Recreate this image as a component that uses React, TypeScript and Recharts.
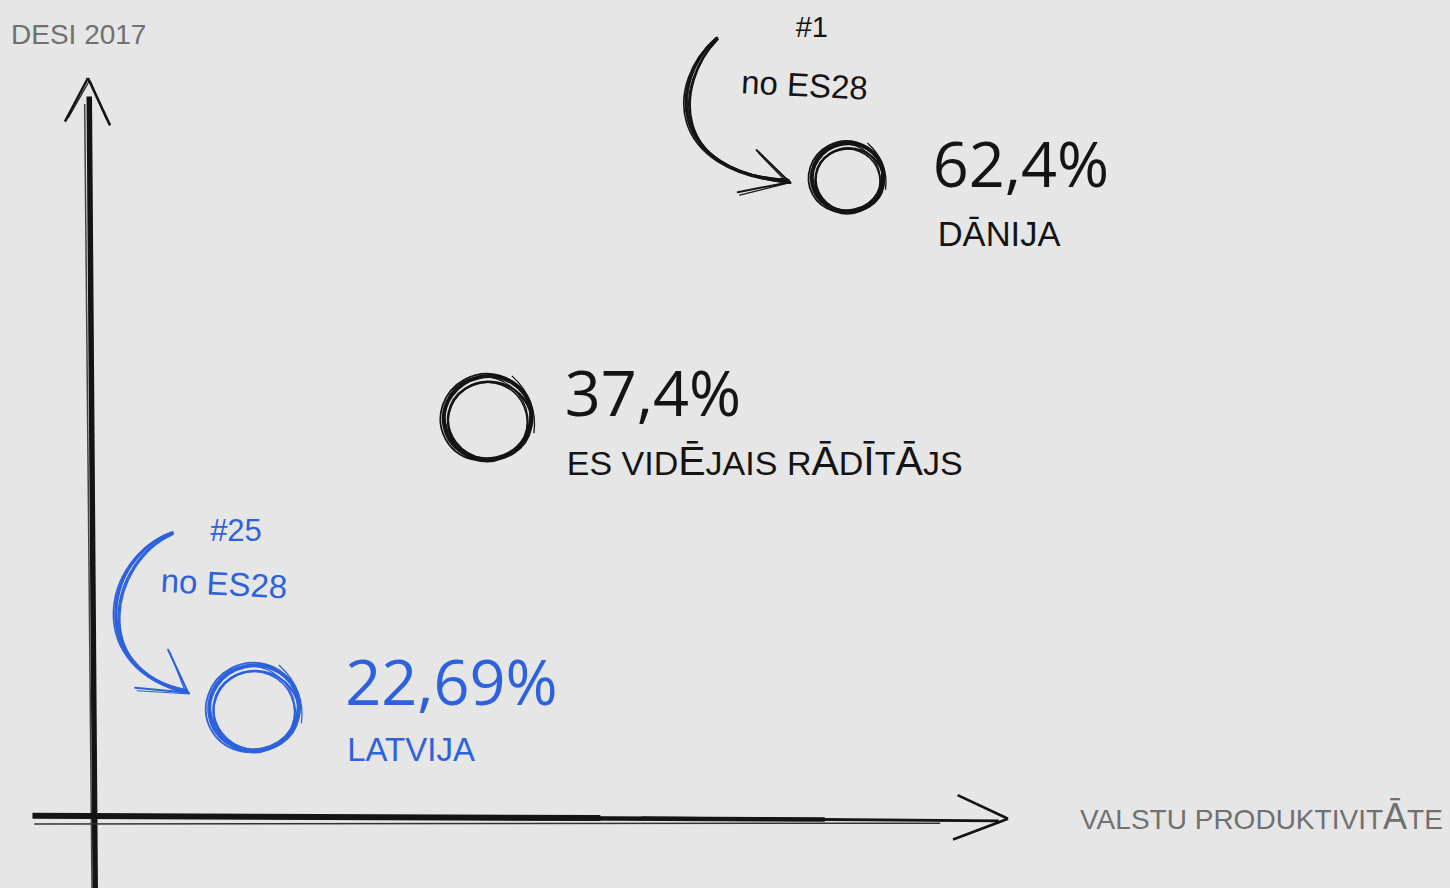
import React from "react";
import { ScatterChart, Scatter, XAxis, YAxis, ReferenceLine } from "recharts";

// values
const countries = ["LATVIJA", "ES VIDĒJAIS RĀDĪTĀJS", "DĀNIJA"];
const desiScore = [22.69, 37.4, 62.4];
const productivity = [17.7, 43.2, 82.5];
const desiPosition = [14.9, 54.1, 86.6];
const ranks = ["#25", "", "#1"];
const rankNote = "no ES28";

const BG = "#e6e6e6";
const INK = "#141414";
const BLUE = "#2d62dc";
const GREY = "#707070";
const SANS = "'Liberation Sans', Arial, sans-serif";
const BIG_CHARS = "ĀĒĪ";

const fmt = (v: number) => String(v).replace(".", ",") + "%";

const points = countries.map((name, i) => ({
  name,
  x: productivity[i],
  y: desiPosition[i],
  score: desiScore[i],
  rank: ranks[i],
}));

// text where the macron letters are drawn a bit larger (like the original)
function MixedText({ x, y, text, small, big, fill, family = SANS }: any) {
  return (
    <text x={x} y={y} fill={fill} fontFamily={family}>
      {text.split("").map((ch: string, i: number) => (
        <tspan key={i} fontSize={BIG_CHARS.includes(ch) ? big : small}>
          {ch}
        </tspan>
      ))}
    </text>
  );
}

function SketchCircle({ cx, cy, r, color }: any) {
  const rings = [
    { dx: 0, dy: 0, rx: 1, ry: 0.94, rot: -12, w: 4 },
    { dx: 2.5, dy: 2.5, rx: 0.95, ry: 0.88, rot: 10, w: 2.4 },
    { dx: -2, dy: -1.5, rx: 1.03, ry: 0.98, rot: -28, w: 1.8 },
    { dx: 1.5, dy: 4, rx: 0.9, ry: 0.9, rot: 22, w: 1.6 },
    { dx: -1, dy: 1, rx: 0.98, ry: 0.9, rot: 40, w: 1.2 },
  ];
  return (
    <g fill="none" stroke={color}>
      {rings.map((k, i) => (
        <ellipse
          key={i}
          cx={cx + k.dx}
          cy={cy + k.dy}
          rx={r * k.rx}
          ry={r * k.ry}
          strokeWidth={k.w}
          transform={`rotate(${k.rot} ${cx} ${cy})`}
        />
      ))}
      <path
        d={`M ${cx + r * 0.55} ${cy - r * 0.95} Q ${cx + r * 1.15} ${cy - r * 0.4} ${cx + r * 1.05} ${cy + r * 0.35}`}
        strokeWidth={1.3}
      />
    </g>
  );
}

function SketchArrow({ cx, cy, path, barbs, color }: any) {
  const [s, c1, c2, e] = path;
  const d = (o: number[]) =>
    `M ${cx + s[0] + o[0]} ${cy + s[1] + o[1]} C ${cx + c1[0] + o[2]} ${cy + c1[1] + o[3]}, ${cx + c2[0] + o[2]} ${cy + c2[1] + o[3]}, ${cx + e[0] + o[4]} ${cy + e[1] + o[5]}`;
  const strokes = [
    { o: [0, 0, 0, 0, 0, 0], w: 3 },
    { o: [1, 1, 4, 3, -1, -2], w: 2.2 },
    { o: [-1, 0, -3, 1, 1, 1], w: 1.6 },
    { o: [0, 2, 6, 5, -2, -3], w: 1.4 },
    { o: [1, -1, 2, -2, -3, 0], w: 1 },
  ];
  return (
    <g fill="none" stroke={color} strokeLinecap="round">
      {strokes.map((k, i) => (
        <path key={i} d={d(k.o)} strokeWidth={k.w} />
      ))}
      {barbs.map((b: number[], i: number) => (
        <g key={i}>
          <line x1={cx + e[0]} y1={cy + e[1]} x2={cx + b[0]} y2={cy + b[1]} strokeWidth={2} />
          <line x1={cx + e[0] - 2} y1={cy + e[1] + 1} x2={cx + b[0] + 2} y2={cy + b[1] + 3} strokeWidth={1.2} />
        </g>
      ))}
    </g>
  );
}

function Mark(props: any) {
  const { cx, cy, payload, color, r, textDx, textDy, nameDx, nameDy, nameSmall, nameBig, arrow, rankDx, rankDy, noteDx, noteDy, rankSize } = props;
  return (
    <g>
      <SketchCircle cx={cx} cy={cy} r={r} color={color} />
      <text x={cx + textDx} y={cy + textDy} fill={color} fontSize={63} fontFamily="'Open Sans', sans-serif">
        {fmt(payload.score)}
      </text>
      <MixedText x={cx + nameDx} y={cy + nameDy} text={payload.name} small={nameSmall} big={nameBig} fill={color} />
      {arrow && (
        <>
          <SketchArrow cx={cx} cy={cy} path={arrow.path} barbs={arrow.barbs} color={color} />
          <text x={cx + rankDx} y={cy + rankDy} fill={color} fontSize={rankSize} fontFamily={SANS}>
            {payload.rank}
          </text>
          <text
            x={cx + noteDx}
            y={cy + noteDy}
            fill={color}
            fontSize={33}
            fontFamily={SANS}
            transform={`rotate(3 ${cx + noteDx} ${cy + noteDy})`}
          >
            {rankNote}
          </text>
        </>
      )}
    </g>
  );
}

const seg = (a: number[], b: number[]) => [
  { x: a[0], y: a[1] },
  { x: b[0], y: b[1] },
];

export default function App() {
  return (
    <div style={{ width: 1450, height: 888, background: BG, position: "relative", overflow: "hidden" }}>
      <style>{"body{margin:0;background:#e6e6e6}"}</style>
      <ScatterChart width={1450} height={888} margin={{ top: 78, right: 442, bottom: 70, left: 92 }}>
        <XAxis dataKey="x" type="number" domain={[0, 100]} hide />
        <YAxis dataKey="y" type="number" domain={[0, 100]} hide />

        {/* y axis */}
        <ReferenceLine segment={seg([-0.3, 97.5], [0.35, -9.6])} stroke={INK} strokeWidth={5.5} ifOverflow="visible" />
        <ReferenceLine segment={seg([-0.8, 96.5], [0, -9.6])} stroke="#444" strokeWidth={1.5} ifOverflow="visible" />
        <ReferenceLine segment={seg([-0.44, 100], [-2.95, 94.1])} stroke={INK} strokeWidth={2.5} ifOverflow="visible" />
        <ReferenceLine segment={seg([-0.3, 99.6], [-2.6, 94.6])} stroke={INK} strokeWidth={1.2} ifOverflow="visible" />
        <ReferenceLine segment={seg([-0.44, 100], [1.97, 93.6])} stroke={INK} strokeWidth={2.5} ifOverflow="visible" />
        <ReferenceLine segment={seg([-0.2, 99.6], [1.6, 94.4])} stroke={INK} strokeWidth={1.4} ifOverflow="visible" />

        {/* x axis */}
        <ReferenceLine segment={seg([-6.5, 0.3], [55.5, 0])} stroke={INK} strokeWidth={6} ifOverflow="visible" />
        <ReferenceLine segment={seg([31.4, 0.1], [80, -0.2])} stroke={INK} strokeWidth={4.5} ifOverflow="visible" />
        <ReferenceLine segment={seg([60, 0], [99.0, -0.4])} stroke={INK} strokeWidth={2.8} ifOverflow="visible" />
        <ReferenceLine segment={seg([-6.3, -0.8], [92.6, -0.7])} stroke="#333" strokeWidth={1.5} ifOverflow="visible" />
        <ReferenceLine segment={seg([100, -0.1], [94.5, 3.1])} stroke={INK} strokeWidth={2.6} ifOverflow="visible" />
        <ReferenceLine segment={seg([99.6, 0.2], [95.5, 2.5])} stroke={INK} strokeWidth={1.2} ifOverflow="visible" />
        <ReferenceLine segment={seg([100, -0.1], [94.0, -2.9])} stroke={INK} strokeWidth={2.6} ifOverflow="visible" />
        <ReferenceLine segment={seg([99.5, -0.4], [95.2, -2.4])} stroke={INK} strokeWidth={1.2} ifOverflow="visible" />

        <Scatter
          data={[points[0]]}
          isAnimationActive={false}
          shape={(p: any) => (
            <Mark
              {...p}
              color={BLUE}
              r={45}
              textDx={91}
              textDy={-3}
              nameDx={93}
              nameDy={53}
              nameSmall={33}
              nameBig={33}
              rankDx={-44}
              rankDy={-167}
              noteDx={-94}
              noteDy={-116}
              rankSize={31}
              arrow={{
                path: [[-82, -175], [-150, -150], [-170, -40], [-66, -15]],
                barbs: [[-86, -58], [-119, -20]],
              }}
            />
          )}
        />
        <Scatter
          data={[points[1]]}
          isAnimationActive={false}
          shape={(p: any) => (
            <Mark {...p} color={INK} r={44} textDx={77} textDy={-2} nameDx={79} nameDy={57} nameSmall={34} nameBig={41} />
          )}
        />
        <Scatter
          data={[points[2]]}
          isAnimationActive={false}
          shape={(p: any) => (
            <Mark
              {...p}
              color={INK}
              r={36}
              textDx={85}
              textDy={10}
              nameDx={90}
              nameDy={69}
              nameSmall={34.5}
              nameBig={34.5}
              rankDx={-52}
              rankDy={-140}
              noteDx={-107}
              noteDy={-84}
              rankSize={29}
              arrow={{
                path: [[-131, -139], [-178, -97], [-183, -7], [-58, 5]],
                barbs: [[-91, -27], [-110, 15]],
              }}
            />
          )}
        />
      </ScatterChart>

      <svg width={1450} height={888} style={{ position: "absolute", left: 0, top: 0, pointerEvents: "none" }}>
        <text x={11} y={44} fill={GREY} fontSize={28} fontFamily={SANS}>
          DESI 2017
        </text>
        <MixedText x={1080} y={829} text="VALSTU PRODUKTIVITĀTE" small={28} big={36} fill={GREY} />
      </svg>
    </div>
  );
}
